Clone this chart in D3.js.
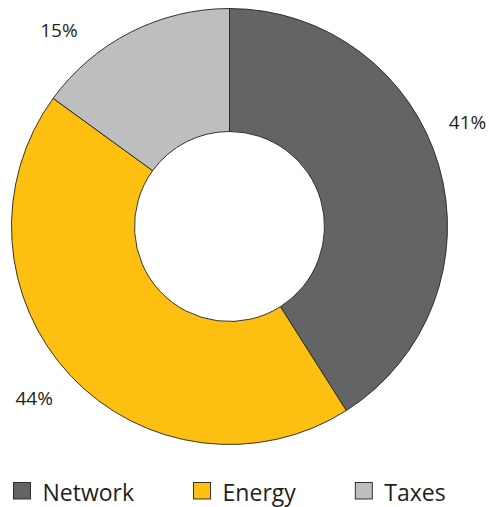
<!DOCTYPE html>
<html>
<head>
<meta charset="utf-8">
<script src="https://cdn.jsdelivr.net/npm/d3@7"></script>
<style>
  html, body { margin: 0; padding: 0; background: #ffffff; }
  svg { display: block; }
  text { font-family: "Open Sans", "DejaVu Sans", sans-serif; fill: #231f20; }
</style>
</head>
<body>
<svg id="chart" width="489" height="507"></svg>
<script>
// Cost breakdown shares (percent)
const categories = ["Network", "Energy", "Taxes"];
const shares = [41, 44, 15];
const valueLabels = ["41%", "44%", "15%"];

// Slice colours, in category order
const colors = ["#636466", "#fdc010", "#bcbec0"];

// Angle (degrees, clockwise from 12 o'clock) at which each value label sits
const labelAngles = [66.3, 228.7, 319];

const width = 489, height = 507;
const cx = 229.5, cy = 226.5;
const outerR = 218, innerR = 95, labelR = 260;

const svg = d3.select("#chart");

const data = categories.map((c, i) => ({ category: c, value: shares[i], label: valueLabels[i], color: colors[i], labelAngle: labelAngles[i] }));

const pie = d3.pie()
  .sort(null)
  .value(d => d.value)
  .startAngle(0)
  .endAngle(2 * Math.PI);

const arc = d3.arc().innerRadius(innerR).outerRadius(outerR);

const g = svg.append("g").attr("transform", `translate(${cx},${cy})`);

g.selectAll("path.slice")
  .data(pie(data))
  .join("path")
  .attr("class", "slice")
  .attr("d", arc)
  .attr("fill", d => d.data.color)
  .attr("stroke", "#231f20")
  .attr("stroke-width", 0.9)
  .attr("stroke-linejoin", "miter");

// Percentage labels outside the ring
g.selectAll("text.value")
  .data(pie(data))
  .join("text")
  .attr("class", "value")
  .attr("x", d => labelR * Math.sin(d.data.labelAngle * Math.PI / 180))
  .attr("y", d => -labelR * Math.cos(d.data.labelAngle * Math.PI / 180))
  .attr("text-anchor", "middle")
  .attr("dominant-baseline", "central")
  .attr("font-size", 19)
  .text(d => d.data.label);

// Legend row along the bottom, laid out left to right
const legend = svg.append("g").attr("transform", "translate(13.5,482.5)");
let xPos = 0;
data.forEach(d => {
  const item = legend.append("g").attr("transform", `translate(${xPos},0)`);
  item.append("rect")
    .attr("width", 17)
    .attr("height", 16.5)
    .attr("fill", d.color)
    .attr("stroke", "#231f20")
    .attr("stroke-width", 0.9);
  const t = item.append("text")
    .attr("x", 29)
    .attr("y", 18.3)
    .attr("font-size", 23)
    .text(d.category);
  xPos += 29 + t.node().getComputedTextLength() + 59.5;
});
</script>
</body>
</html>
